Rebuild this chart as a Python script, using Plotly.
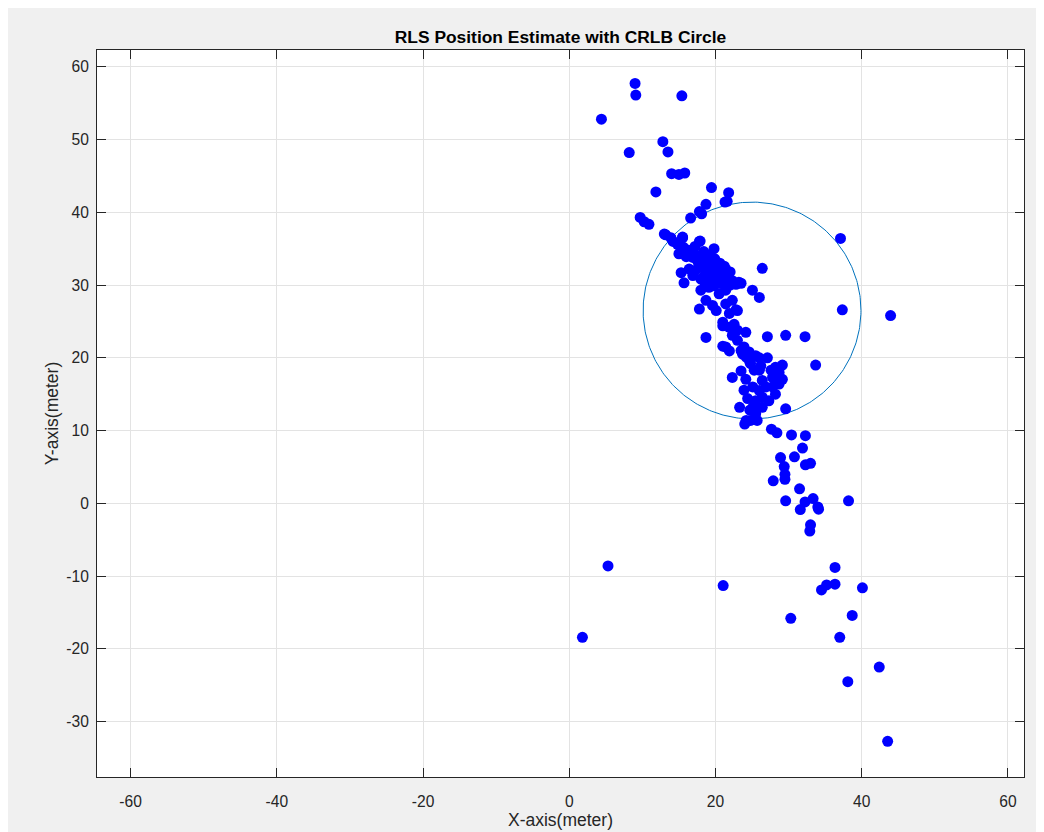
import numpy as np
import plotly.graph_objects as go

# RLS position estimates (meters)
x_est = [
    9.0, 9.1, 15.4, 4.4, 12.8, 13.5, 8.2, 14.0, 15.0, 15.8, 11.85, 19.45, 21.8, 21.3, 21.6,
    18.7, 17.8, 18.1, 16.6, 9.7, 10.25, 10.9, 13.2, 13.9, 15.5, 17.9,
    37.1, 37.35, 43.95, 33.7, 32.25, 29.6, 27.1, 26.4, 18.7, 17.8, 29.6, 23.3,
    27.65, 28.4, 30.4, 32.3, 31.9, 28.9, 30.8, 29.4, 32.3, 33.0, 29.5, 29.5, 27.9, 31.5,
    29.6, 32.25, 33.35, 34.0, 34.1, 31.6, 38.2, 33.0, 32.9,
    5.3, 1.8, 21.05, 36.35, 35.2, 34.5, 36.35, 40.1, 30.3, 38.7, 37.0, 42.4, 38.1, 43.55,
    13.0, 15.5, 17.8, 19.8, 21.4, 23.2, 21.2, 15.0, 16.9, 18.7, 20.1,
    18.0, 18.7, 20.1, 21.4, 22.3, 23.0, 20.5, 21.4, 19.1, 19.6, 21.9, 22.8,
    15.3, 15.7, 18.0, 16.4, 16.9, 23.5, 25.05, 26.0,
    14.2, 14.8, 15.6, 16.3, 16.9, 17.5, 18.1, 18.6, 19.2, 19.8, 20.3, 20.9, 21.6, 22.3, 22.8,
    17.2, 18.4, 19.0, 19.9, 20.6, 21.2, 22.0, 16.0, 17.6, 18.2, 19.0, 19.6, 20.2, 20.8, 21.4,
    22.0, 17.2, 18.4, 19.2, 19.8, 18.6,
    21.0, 22.55, 24.15, 21.0, 21.9, 23.7, 26.0, 27.1, 29.15, 22.3, 23.5, 24.15, 29.15, 23.9,
    25.1, 26.4, 27.8, 28.7, 28.2, 27.3, 26.4, 25.5, 24.8, 25.7, 26.4, 25.5, 26.0, 26.9, 25.1,
    27.8, 27.6, 26.0, 24.8, 25.3, 24.2, 24.7, 26.2, 28.2, 28.0, 28.7, 24.4, 24.7, 24.2, 24.0,
    21.0, 21.9, 22.3, 23.0, 23.9, 24.6, 23.5, 25.5, 23.0, 21.4,
]
y_est = [
    57.7, 56.1, 56.0, 52.8, 49.7, 48.3, 48.2, 45.3, 45.2, 45.4, 42.8, 43.4, 42.7, 41.4, 41.5,
    41.1, 40.1, 39.8, 39.2, 39.3, 38.7, 38.35, 36.9, 36.5, 36.5, 36.05,
    36.4, 26.6, 25.8, 19.0, 22.9, 23.1, 22.9, 32.3, 22.8, 26.7, 13.0, 13.2,
    10.2, 9.7, 9.4, 9.3, 7.6, 6.3, 6.4, 5.05, 5.3, 5.5, 4.0, 3.3, 3.1, 2.0,
    0.35, 0.2, 0.66, -0.5, -0.8, -0.85, 0.35, -2.95, -3.8,
    -8.6, -18.4, -11.3, -8.8, -11.2, -11.9, -11.1, -11.6, -15.8, -15.4, -18.4, -22.5, -24.5, -32.7,
    37.0, 36.6, 36.0, 35.0, 32.2, 30.4, 31.3, 34.3, 33.8, 32.9, 31.3,
    29.3, 27.9, 26.5, 29.3, 27.9, 26.5, 28.8, 27.4, 29.7, 27.2, 26.1, 26.6,
    31.7, 30.3, 30.8, 32.2, 31.3, 30.25, 29.3, 28.3,
    36.0, 35.6, 35.2, 34.8, 34.4, 34.0, 33.6, 33.2, 32.8, 32.4, 32.0, 31.6, 31.0, 30.6, 30.1,
    35.3, 34.6, 34.1, 33.6, 33.0, 32.6, 31.8, 33.9, 33.2, 32.4, 31.8, 31.2, 30.6, 30.2, 29.8,
    30.0, 32.0, 31.2, 30.6, 29.9, 30.2,
    24.4, 24.6, 23.5, 21.6, 20.95, 20.5, 20.0, 20.0, 19.0, 17.3, 18.2, 17.05, 17.05, 15.55,
    16.0, 16.9, 17.3, 16.4, 15.0, 14.1, 13.2, 12.3, 11.4, 11.4, 14.6, 14.1, 15.5, 16.0, 13.2,
    16.0, 18.3, 18.3, 19.2, 18.3, 20.1, 19.4, 18.9, 18.7, 17.8, 18.0, 14.4, 12.8, 11.4, 10.9,
    24.9, 24.2, 23.1, 22.4, 21.5, 20.8, 21.0, 20.3, 23.8, 21.5,
]

# CRLB circle
crlb_center_x = 25.0
crlb_center_y = 26.5
crlb_radius = 14.9

title_text = "RLS Position Estimate with CRLB Circle"
x_label = "X-axis(meter)"
y_label = "Y-axis(meter)"
x_ticks = [-60, -40, -20, 0, 20, 40, 60]
y_ticks = [-30, -20, -10, 0, 10, 20, 30, 40, 50, 60]

theta = np.linspace(0, 2 * np.pi, 361)
circ_x = crlb_center_x + crlb_radius * np.cos(theta)
circ_y = crlb_center_y + crlb_radius * np.sin(theta)

fig = go.Figure()
fig.add_trace(go.Scatter(x=circ_x, y=circ_y, mode="lines",
                         line=dict(color="#0072BD", width=1), hoverinfo="skip"))
fig.add_trace(go.Scatter(x=x_est, y=y_est, mode="markers",
                         marker=dict(color="#0000FF", size=11, line=dict(width=0))))

W, H = 1044, 832
L, R, T, B = 89, 28, 42, 63
pw = W - L - R

FONT = "Liberation Sans, Arial, Helvetica"

axis_common = dict(
    showline=True, linecolor="#262626", linewidth=1, mirror="ticks",
    ticks="inside", ticklen=9, tickcolor="#262626", tickwidth=1,
    showgrid=True, gridcolor="#e3e3e3", gridwidth=1, zeroline=False,
    tickfont=dict(family=FONT, size=15.6, color="#262626"),
)

fig.update_layout(
    width=W, height=H,
    margin=dict(l=L, r=R, t=T, b=B),
    paper_bgcolor="#f0f0f0", plot_bgcolor="white",
    showlegend=False,
    title=dict(text="<b>" + title_text + "</b>", x=(L + pw / 2) / W, xanchor="center",
               y=1 - 29 / H, yanchor="middle",
               font=dict(family=FONT, size=17.4, color="black")),
    xaxis=dict(range=[-64.6, 62.2], tickvals=x_ticks, ticktext=[str(v) for v in x_ticks],
               title=dict(text=x_label, standoff=0,
                          font=dict(family=FONT, size=17.5, color="#262626")),
               ticklabelstandoff=10, **axis_common),
    yaxis=dict(range=[-37.6, 62.3], tickvals=y_ticks, ticktext=[str(v) for v in y_ticks],
               title=dict(text=y_label, standoff=3,
                          font=dict(family=FONT, size=17.5, color="#262626")),
               ticklabelstandoff=4, **axis_common),
)

fig.write_html("out.html")
